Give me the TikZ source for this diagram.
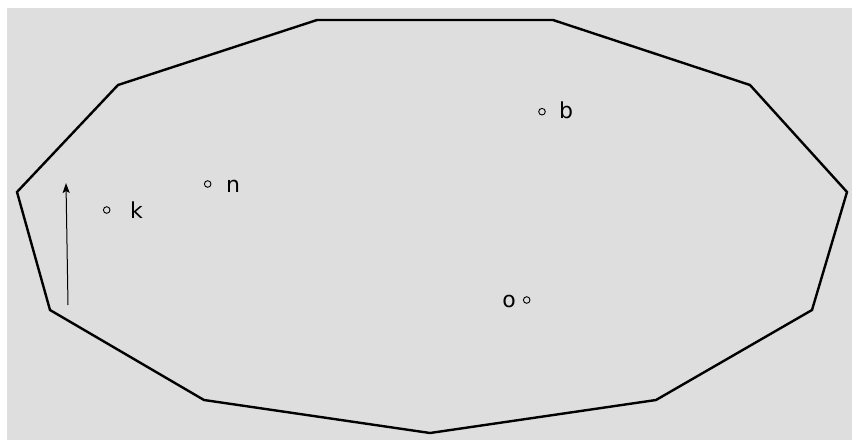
\documentclass[tikz,border=0pt]{standalone}
\usepackage{fontspec}
\setmainfont{DejaVu Sans}
\usetikzlibrary{arrows.meta}
\definecolor{bggray}{RGB}{222,222,222}
\begin{document}
\begin{tikzpicture}[
  x=1pt, y=-1pt,
  >={Stealth[length=10pt,width=7pt,inset=2pt]},
  every node/.style={inner sep=0pt},
  pt/.style={draw, circle, line width=0.9pt, minimum size=6.6pt},
  lab/.style={font=\fontsize{22}{26}\selectfont, anchor=base west}
]
  \useasboundingbox (0,0) rectangle (852,440);
  \fill[bggray] (7,8) rectangle (852,440);

  % outline
  \coordinate (v1) at (317,20);
  \coordinate (v2) at (553,20);
  \coordinate (v3) at (750,85);
  \coordinate (v4) at (847,192);
  \coordinate (v5) at (812,310);
  \coordinate (v6) at (656,400);
  \coordinate (v7) at (430,433);
  \coordinate (v8) at (204,400);
  \coordinate (v9) at (50,310);
  \coordinate (v10) at (17,192);
  \coordinate (v11) at (118,85);
  \draw[line width=2.4pt, line join=miter]
    (v1) -- (v2) -- (v3) -- (v4) -- (v5) -- (v6) -- (v7) -- (v8) -- (v9) -- (v10) -- (v11) -- cycle;

  % points
  \node[pt] (pk) at (106.7,210) {};
  \node[pt] (pn) at (207.7,184) {};
  \node[pt] (pb) at (542,111.7) {};
  \node[pt] (po) at (526.7,300) {};

  \node[lab] (lk) at (130,218) {k};
  \node[lab] (ln) at (226,192) {n};
  \node[lab] (lb) at (559,118) {b};
  \node[lab, anchor=base east] (lo) at (516,307) {o};

  % arrow
  \coordinate (a0) at (68,305);
  \coordinate (a1) at (66,183);
  \draw[->, line width=1pt] (a0) -- (a1);
\end{tikzpicture}
\end{document}
